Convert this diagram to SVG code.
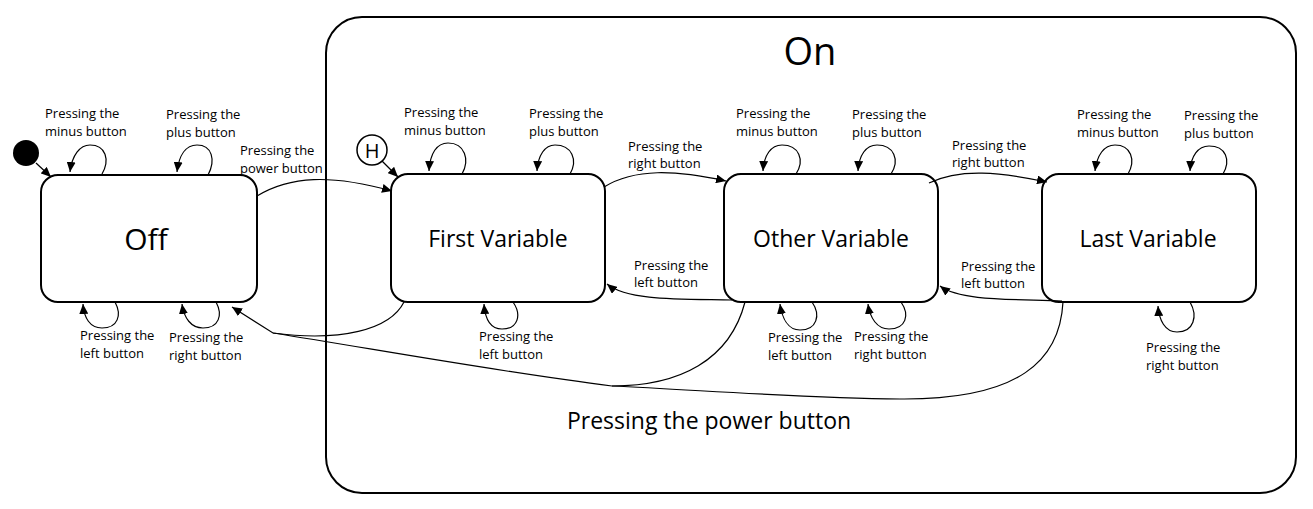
<svg xmlns="http://www.w3.org/2000/svg" width="1313" height="509" viewBox="0 0 1313 509">
<style>
.box{fill:#fff;stroke:#000;stroke-width:2}
.c{fill:none;stroke:#000;stroke-width:1.2}
.lbl{font-family:"Open Sans","Liberation Sans",sans-serif;font-size:13px;fill:#000}
.big{font-family:"Open Sans","Liberation Sans",sans-serif;font-size:23px;fill:#000;text-anchor:middle}
</style>
<defs>
<marker id="ah" markerUnits="userSpaceOnUse" markerWidth="11" markerHeight="9" refX="10" refY="4.5" orient="auto">
<path d="M0,0 L10,4.5 L0,9 z" fill="#000"/>
</marker>
</defs>
<rect width="1313" height="509" fill="#fff"/>
<g id="on">
<rect class="box" x="326" y="17" width="970" height="476" rx="36" ry="36"/>
<text class="big" x="810" y="65" style="font-size:38px">On</text>
<text class="big" x="709" y="429">Pressing the power button</text>
</g>
<g id="initial"><circle cx="26" cy="153" r="13" fill="#000"/></g>
<g id="history"><circle cx="372" cy="150" r="15" fill="#fff" stroke="#000" stroke-width="1.5"/><text x="372" y="158" text-anchor="middle" style="font-family:'Open Sans','Liberation Sans',sans-serif;font-size:20px">H</text></g>
<g id="off"><rect class="box" x="41" y="175" width="216" height="127" rx="17"/><text class="big" x="146" y="250" style="font-size:30px">Off</text></g>
<g id="first"><rect class="box" x="391" y="174" width="214" height="128" rx="17"/><text class="big" x="498" y="247">First Variable</text></g>
<g id="other"><rect class="box" x="724" y="174" width="214" height="128" rx="17"/><text class="big" x="831" y="247">Other Variable</text></g>
<g id="last"><rect class="box" x="1042" y="174" width="214" height="128" rx="17"/><text class="big" x="1148" y="247">Last Variable</text></g>
<g id="connectors">
<path class="c" d="M36,163 L51,177" marker-end="url(#ah)"/>
<path class="c" d="M382,161 L398,177" marker-end="url(#ah)"/>
<!-- Off loops -->
<path class="c" d="M102,174 C110,160 106,145 90,145 C80,145 72,155 70,172" marker-end="url(#ah)"/>
<path class="c" d="M208,175 C216,160 212,145 197,145 C186,145 179,155 177,172" marker-end="url(#ah)"/>
<path class="c" d="M115,302 C122,315 118,328 102,328 C90,328 84,318 83,304" marker-end="url(#ah)"/>
<path class="c" d="M216,302 C223,315 219,328 203,328 C191,328 184,318 182,304" marker-end="url(#ah)"/>
<!-- First loops -->
<path class="c" d="M462,174 C470,160 465,143 448,143 C437,143 430,153 429,171" marker-end="url(#ah)"/>
<path class="c" d="M570,174 C578,160 572,145 555,145 C545,145 538,155 537,171" marker-end="url(#ah)"/>
<path class="c" d="M513,302 C522,315 518,329 502,329 C490,329 485,318 484,304" marker-end="url(#ah)"/>
<!-- Other loops -->
<path class="c" d="M796,174 C805,160 799,145 782,145 C771,145 764,155 763,171" marker-end="url(#ah)"/>
<path class="c" d="M891,174 C900,160 894,145 877,145 C866,145 859,155 858,171" marker-end="url(#ah)"/>
<path class="c" d="M812,302 C821,315 817,330 800,330 C788,330 782,318 780,304" marker-end="url(#ah)"/>
<path class="c" d="M901,302 C910,315 906,329 889,329 C877,329 870,318 868,304" marker-end="url(#ah)"/>
<!-- Last loops -->
<path class="c" d="M1128,174 C1136,160 1131,145 1115,145 C1104,145 1097,155 1095,171" marker-end="url(#ah)"/>
<path class="c" d="M1223,174 C1231,160 1226,146 1209,146 C1198,146 1191,156 1190,171" marker-end="url(#ah)"/>
<path class="c" d="M1190,302 C1198,316 1194,332 1177,332 C1165,332 1159,320 1158,306" marker-end="url(#ah)"/>
<!-- transitions -->
<path class="c" d="M257,196 C290,176 330,174 392,191" marker-end="url(#ah)"/>
<path class="c" d="M604,187 C635,168 675,170 726,181" marker-end="url(#ah)"/>
<path class="c" d="M929,183 C960,168 1000,172 1047,182" marker-end="url(#ah)"/>
<path class="c" d="M732,300 C680,299 628,301 607,284" marker-end="url(#ah)"/>
<path class="c" d="M1062,301 C1010,299 960,301 940,286" marker-end="url(#ah)"/>
<path class="c" d="M404,302 C390,330 340,342 273,333 L232,307" marker-end="url(#ah)"/>
<path class="c" d="M745,302 C730,360 680,386 612,386 C500,372 380,350 273,333"/>
<path class="c" d="M1063,302 C1060,360 1020,400 900,399 C800,398 700,390 612,386"/>
</g>
<g id="labels">
<text class="lbl" x="45" y="118">Pressing the<tspan x="45" y="136">minus button</tspan></text>
<text class="lbl" x="166" y="119">Pressing the<tspan x="166" y="137">plus button</tspan></text>
<text class="lbl" x="240" y="155">Pressing the<tspan x="240" y="173">power button</tspan></text>
<text class="lbl" x="80" y="340">Pressing the<tspan x="80" y="358">left button</tspan></text>
<text class="lbl" x="169" y="342">Pressing the<tspan x="169" y="360">right button</tspan></text>
<text class="lbl" x="404" y="117">Pressing the<tspan x="404" y="135">minus button</tspan></text>
<text class="lbl" x="529" y="118">Pressing the<tspan x="529" y="136">plus button</tspan></text>
<text class="lbl" x="628" y="151">Pressing the<tspan x="628" y="168">right button</tspan></text>
<text class="lbl" x="634" y="270">Pressing the<tspan x="634" y="287">left button</tspan></text>
<text class="lbl" x="479" y="341">Pressing the<tspan x="479" y="359">left button</tspan></text>
<text class="lbl" x="736" y="118">Pressing the<tspan x="736" y="136">minus button</tspan></text>
<text class="lbl" x="852" y="119">Pressing the<tspan x="852" y="137">plus button</tspan></text>
<text class="lbl" x="952" y="150">Pressing the<tspan x="952" y="167">right button</tspan></text>
<text class="lbl" x="961" y="271">Pressing the<tspan x="961" y="288">left button</tspan></text>
<text class="lbl" x="768" y="342">Pressing the<tspan x="768" y="360">left button</tspan></text>
<text class="lbl" x="854" y="341">Pressing the<tspan x="854" y="359">right button</tspan></text>
<text class="lbl" x="1077" y="119">Pressing the<tspan x="1077" y="137">minus button</tspan></text>
<text class="lbl" x="1184" y="120">Pressing the<tspan x="1184" y="138">plus button</tspan></text>
<text class="lbl" x="1146" y="352">Pressing the<tspan x="1146" y="370">right button</tspan></text>
</g>
</svg>
